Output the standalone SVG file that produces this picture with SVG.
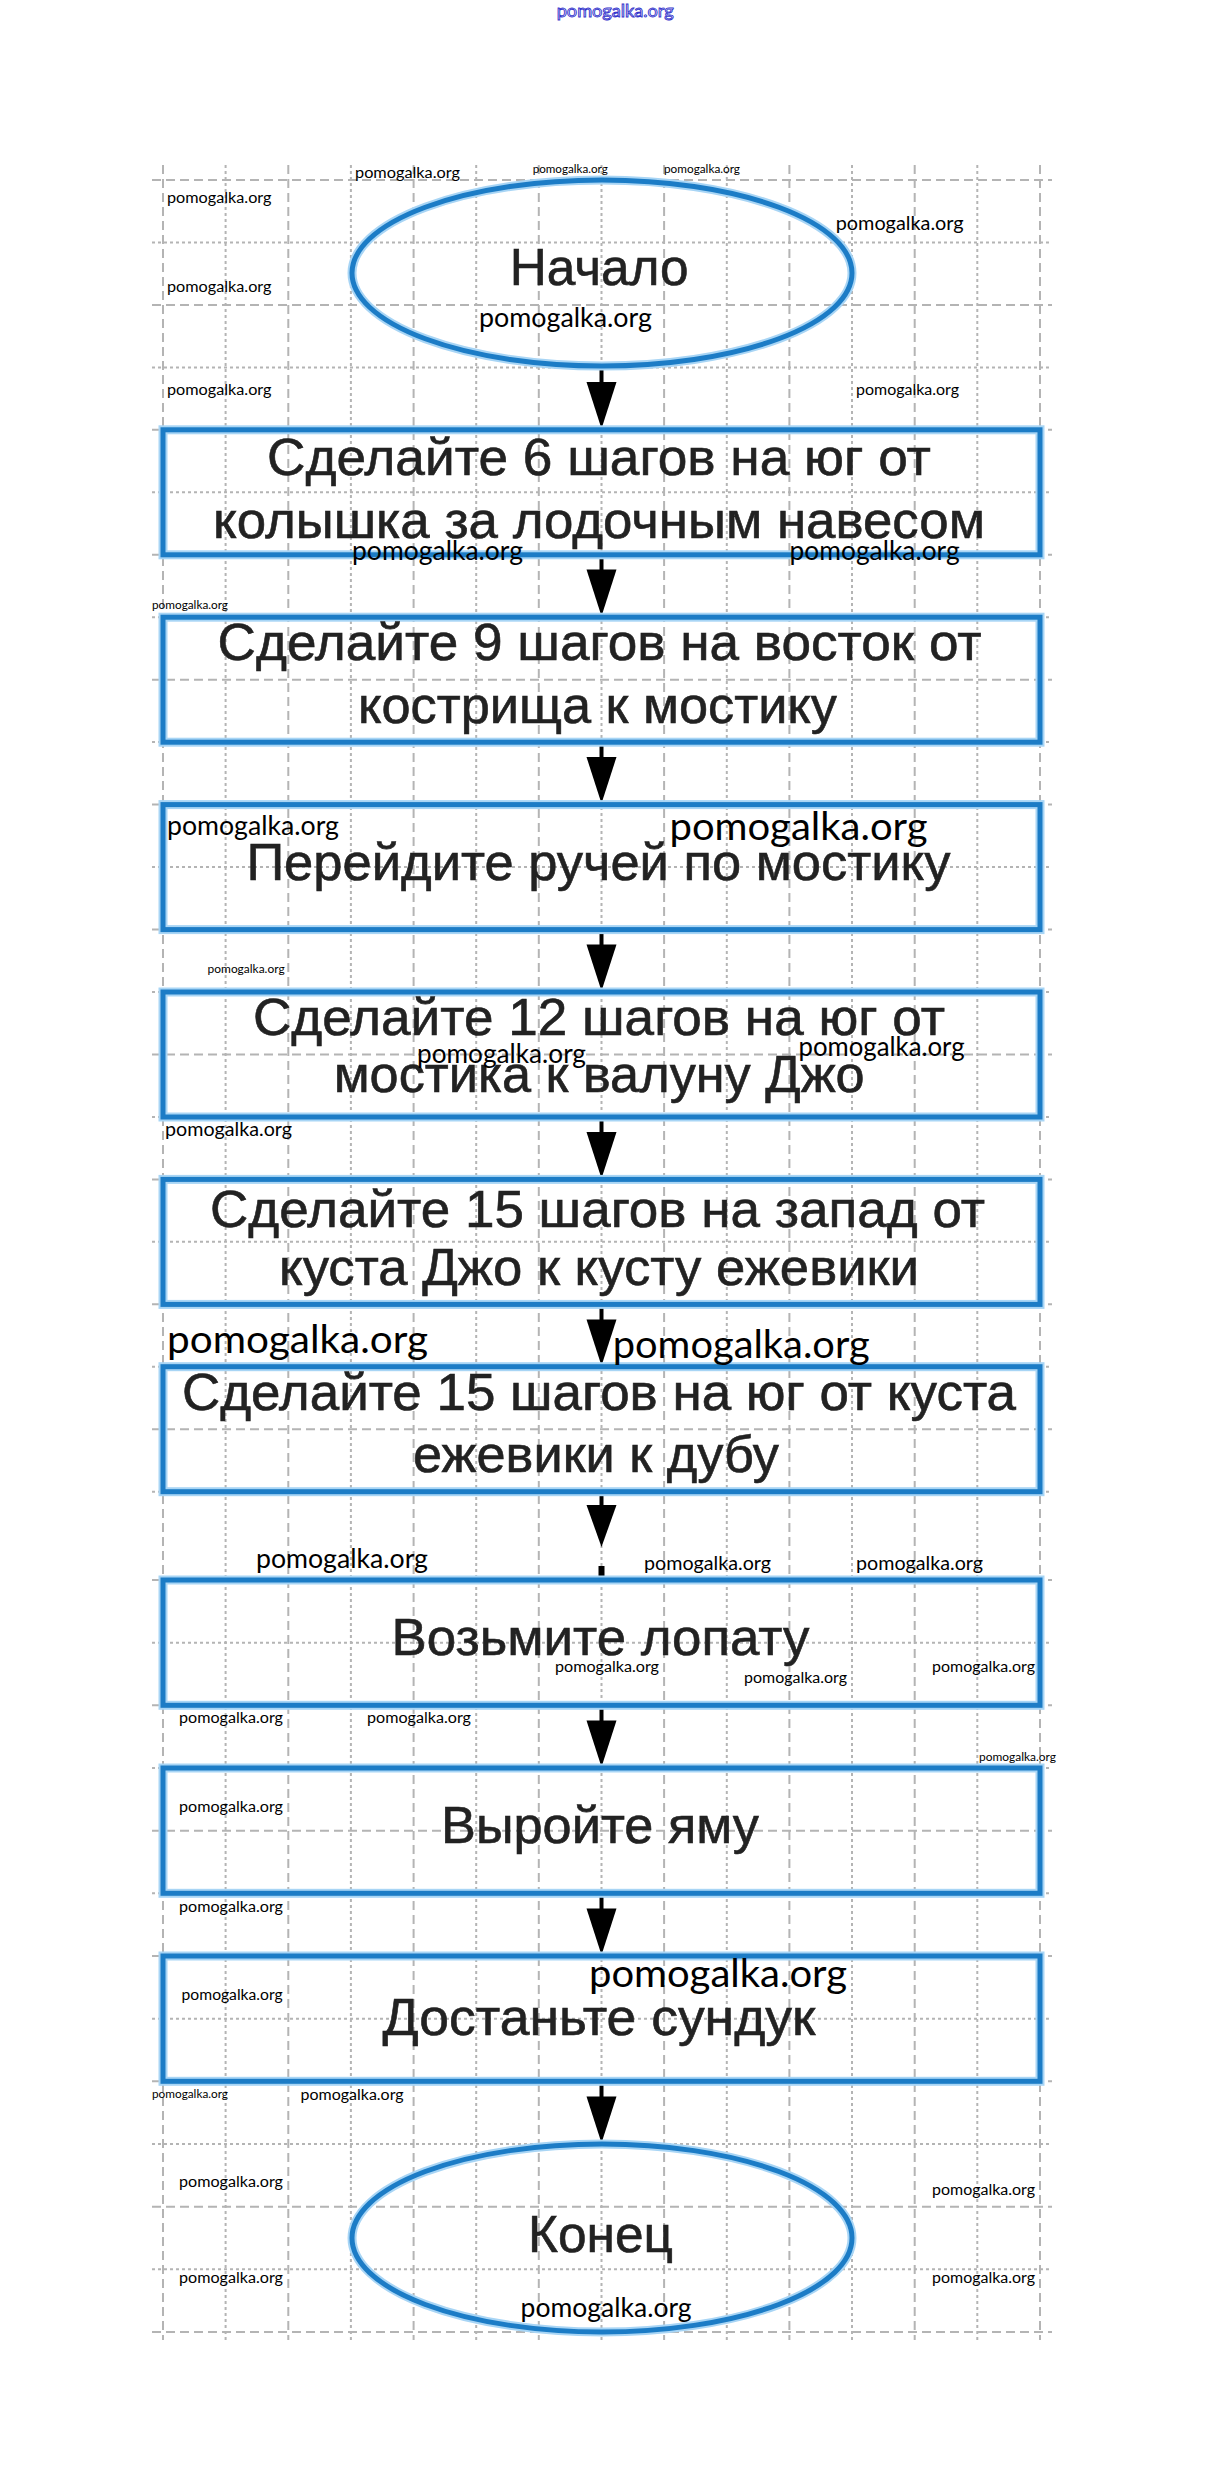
<svg xmlns="http://www.w3.org/2000/svg" width="1228" height="2483" viewBox="0 0 1228 2483">
<style>
.bg{fill:#fff}
.grid{fill:none;stroke:#b4b4b4;stroke-width:2}
.D{stroke-dasharray:9 5}
.d{stroke-dasharray:3 3}
.halo{fill:none;stroke:#a8d5f5;stroke-width:9}
.edge{fill:none;stroke:#1c7cc6;stroke-width:5}
.t{font-family:"Liberation Sans",Arial,sans-serif;font-size:52px;fill:#222;stroke:#222;stroke-width:0.6}
.shaft{stroke:#000;stroke-width:4}
.head{fill:#000}
.w{font-family:Lato,"Open Sans",sans-serif;fill:#000}
.w1{font-size:11.5px}
.w2{font-size:15.5px}
.w3{font-size:19px}
.w4{font-size:26px}
.w5{font-size:39px}
.wb{font-family:Lato,"DejaVu Sans",sans-serif;font-size:17px;fill:#fff;stroke:#3434cc;stroke-width:0.9}
</style>
<rect class="bg" x="0" y="0" width="1228" height="2483"/>
<g id="grid">
<path class="grid D" d="M152 180H1052M152 304.9H1052M152 429.8H1052M152 554.8H1052M152 679.7H1052M152 804.6H1052M152 929.5H1052M152 1054.4H1052M152 1179.4H1052M152 1304.3H1052M152 1429.2H1052M152 1580H1052M152 1705.3H1052M152 1830.7H1052M152 1956H1052M152 2081.3H1052M152 2206.7H1052M152 2332H1052"/>
<path class="grid d" d="M152 242.5H1052M152 367.4H1052M152 492.3H1052M152 617.2H1052M152 742.1H1052M152 867.1H1052M152 992H1052M152 1116.9H1052M152 1241.8H1052M152 1366.7H1052M152 1491.7H1052M152 1642.7H1052M152 1768H1052M152 1893.3H1052M152 2018.7H1052M152 2144H1052M152 2269.3H1052"/>
<path class="grid D" d="M163 165V2340M288.3 165V2340M413.6 165V2340M538.8 165V2340M664.1 165V2340M789.4 165V2340M914.7 165V2340M1040 165V2340"/>
<path class="grid d" d="M225.6 165V2340M350.9 165V2340M476.2 165V2340M601.5 165V2340M726.8 165V2340M852 165V2340M977.3 165V2340"/>
</g>
<g id="connectors">
<g><line class="shaft" x1="601.5" y1="366" x2="601.5" y2="386"/><polygon class="head" points="586.5,382 616.5,382 601.5,428.8"/></g>
<g><line class="shaft" x1="601.5" y1="554.8" x2="601.5" y2="573"/><polygon class="head" points="586.5,569.5 616.5,569.5 601.5,616.2"/></g>
<g><line class="shaft" x1="601.5" y1="742.1" x2="601.5" y2="760"/><polygon class="head" points="586.5,757 616.5,757 601.5,803.6"/></g>
<g><line class="shaft" x1="601.5" y1="929.5" x2="601.5" y2="948"/><polygon class="head" points="586.5,944.5 616.5,944.5 601.5,991"/></g>
<g><line class="shaft" x1="601.5" y1="1116.9" x2="601.5" y2="1135"/><polygon class="head" points="586.5,1132 616.5,1132 601.5,1178.4"/></g>
<g><line class="shaft" x1="601.5" y1="1304.3" x2="601.5" y2="1323"/><polygon class="head" points="586.5,1319.5 616.5,1319.5 601.5,1365.7"/></g>
<g><line class="shaft" x1="601.5" y1="1491.7" x2="601.5" y2="1508"/><polygon class="head" points="586.5,1505 616.5,1505 601.5,1547"/><line class="shaft" x1="601.5" y1="1566" x2="601.5" y2="1580" style="stroke-width:6"/></g>
<g><line class="shaft" x1="601.5" y1="1705.3" x2="601.5" y2="1724"/><polygon class="head" points="586.5,1720.5 616.5,1720.5 601.5,1767"/></g>
<g><line class="shaft" x1="601.5" y1="1893.3" x2="601.5" y2="1912"/><polygon class="head" points="586.5,1908.5 616.5,1908.5 601.5,1955"/></g>
<g><line class="shaft" x1="601.5" y1="2081.3" x2="601.5" y2="2100"/><polygon class="head" points="586.5,2096.5 616.5,2096.5 601.5,2143"/></g>
</g>
<g id="start">
<ellipse class="halo" cx="602" cy="273" rx="250" ry="93"/>
<ellipse class="edge" cx="602" cy="273" rx="250" ry="93"/>
<text class="t" x="509.7" y="285" textLength="179" lengthAdjust="spacingAndGlyphs">Начало</text>
</g>
<g id="step1">
<rect class="halo" x="163" y="429.8" width="877" height="125"/>
<rect class="edge" x="163" y="429.8" width="877" height="125"/>
<text class="t" x="267" y="475" textLength="664" lengthAdjust="spacingAndGlyphs">Сделайте 6 шагов на юг от</text>
<text class="t" x="213" y="538" textLength="772" lengthAdjust="spacingAndGlyphs">колышка за лодочным навесом</text>
</g>
<g id="step2">
<rect class="halo" x="163" y="617.2" width="877" height="125"/>
<rect class="edge" x="163" y="617.2" width="877" height="125"/>
<text class="t" x="217.6" y="660" textLength="764" lengthAdjust="spacingAndGlyphs">Сделайте 9 шагов на восток от</text>
<text class="t" x="358" y="723" textLength="479" lengthAdjust="spacingAndGlyphs">кострища к мостику</text>
</g>
<g id="step3">
<rect class="halo" x="163" y="804.6" width="877" height="125"/>
<rect class="edge" x="163" y="804.6" width="877" height="125"/>
<text class="t" x="246.4" y="880" textLength="704" lengthAdjust="spacingAndGlyphs">Перейдите ручей по мостику</text>
</g>
<g id="step4">
<rect class="halo" x="163" y="992" width="877" height="125"/>
<rect class="edge" x="163" y="992" width="877" height="125"/>
<text class="t" x="253" y="1035" textLength="692" lengthAdjust="spacingAndGlyphs">Сделайте 12 шагов на юг от</text>
<text class="t" x="333.7" y="1092" textLength="531" lengthAdjust="spacingAndGlyphs">мостика к валуну Джо</text>
</g>
<g id="step5">
<rect class="halo" x="163" y="1179.4" width="877" height="125"/>
<rect class="edge" x="163" y="1179.4" width="877" height="125"/>
<text class="t" x="210" y="1227" textLength="775" lengthAdjust="spacingAndGlyphs">Сделайте 15 шагов на запад от</text>
<text class="t" x="279" y="1285" textLength="640" lengthAdjust="spacingAndGlyphs">куста Джо к кусту ежевики</text>
</g>
<g id="step6">
<rect class="halo" x="163" y="1366.7" width="877" height="125"/>
<rect class="edge" x="163" y="1366.7" width="877" height="125"/>
<text class="t" x="182" y="1410" textLength="834" lengthAdjust="spacingAndGlyphs">Сделайте 15 шагов на юг от куста</text>
<text class="t" x="413" y="1472" textLength="366" lengthAdjust="spacingAndGlyphs">ежевики к дубу</text>
</g>
<g id="step7">
<rect class="halo" x="163" y="1580" width="877" height="125.3"/>
<rect class="edge" x="163" y="1580" width="877" height="125.3"/>
<text class="t" x="391.5" y="1655" textLength="418" lengthAdjust="spacingAndGlyphs">Возьмите лопату</text>
</g>
<g id="step8">
<rect class="halo" x="163" y="1768" width="877" height="125.3"/>
<rect class="edge" x="163" y="1768" width="877" height="125.3"/>
<text class="t" x="441" y="1843" textLength="318" lengthAdjust="spacingAndGlyphs">Выройте яму</text>
</g>
<g id="step9">
<rect class="halo" x="163" y="1956" width="877" height="125.3"/>
<rect class="edge" x="163" y="1956" width="877" height="125.3"/>
<text class="t" x="382.5" y="2035" textLength="433" lengthAdjust="spacingAndGlyphs">Достаньте сундук</text>
</g>
<g id="end">
<ellipse class="halo" cx="602" cy="2238" rx="250" ry="94"/>
<ellipse class="edge" cx="602" cy="2238" rx="250" ry="94"/>
<text class="t" x="528" y="2252" textLength="145" lengthAdjust="spacingAndGlyphs">Конец</text>
</g>
<g id="watermarks">
<text class="wb" x="556.7" y="17.3" textLength="117" lengthAdjust="spacingAndGlyphs">pomogalka.org</text>
<text class="w w2" x="355" y="178" textLength="105" lengthAdjust="spacingAndGlyphs">pomogalka.org</text>
<text class="w w1" x="532.7" y="173" textLength="75" lengthAdjust="spacingAndGlyphs">pomogalka.org</text>
<text class="w w1" x="664" y="173" textLength="76" lengthAdjust="spacingAndGlyphs">pomogalka.org</text>
<text class="w w2" x="167" y="203" textLength="104.5" lengthAdjust="spacingAndGlyphs">pomogalka.org</text>
<text class="w w3" x="835.7" y="230" textLength="128" lengthAdjust="spacingAndGlyphs">pomogalka.org</text>
<text class="w w2" x="167" y="291.7" textLength="104.5" lengthAdjust="spacingAndGlyphs">pomogalka.org</text>
<text class="w w4" x="479" y="326.7" textLength="173" lengthAdjust="spacingAndGlyphs">pomogalka.org</text>
<text class="w w2" x="167" y="395" textLength="104.5" lengthAdjust="spacingAndGlyphs">pomogalka.org</text>
<text class="w w2" x="856" y="395" textLength="103" lengthAdjust="spacingAndGlyphs">pomogalka.org</text>
<text class="w w4" x="352" y="560" textLength="171" lengthAdjust="spacingAndGlyphs">pomogalka.org</text>
<text class="w w4" x="789.6" y="560" textLength="170" lengthAdjust="spacingAndGlyphs">pomogalka.org</text>
<text class="w w1" x="152" y="609" textLength="76" lengthAdjust="spacingAndGlyphs">pomogalka.org</text>
<text class="w w4" x="167" y="835" textLength="172" lengthAdjust="spacingAndGlyphs">pomogalka.org</text>
<text class="w w5" x="669.5" y="840" textLength="258" lengthAdjust="spacingAndGlyphs">pomogalka.org</text>
<text class="w w1" x="207.6" y="973" textLength="77" lengthAdjust="spacingAndGlyphs">pomogalka.org</text>
<text class="w w4" x="417" y="1063" textLength="169" lengthAdjust="spacingAndGlyphs">pomogalka.org</text>
<text class="w w4" x="798.6" y="1056" textLength="166" lengthAdjust="spacingAndGlyphs">pomogalka.org</text>
<text class="w w3" x="165" y="1136" textLength="127" lengthAdjust="spacingAndGlyphs">pomogalka.org</text>
<text class="w w5" x="167" y="1353" textLength="261" lengthAdjust="spacingAndGlyphs">pomogalka.org</text>
<text class="w w5" x="612.7" y="1358" textLength="257" lengthAdjust="spacingAndGlyphs">pomogalka.org</text>
<text class="w w4" x="256" y="1568" textLength="172" lengthAdjust="spacingAndGlyphs">pomogalka.org</text>
<text class="w w3" x="644" y="1570" textLength="127" lengthAdjust="spacingAndGlyphs">pomogalka.org</text>
<text class="w w3" x="856" y="1570" textLength="127" lengthAdjust="spacingAndGlyphs">pomogalka.org</text>
<text class="w w2" x="555" y="1671.7" textLength="104" lengthAdjust="spacingAndGlyphs">pomogalka.org</text>
<text class="w w2" x="744" y="1683" textLength="103" lengthAdjust="spacingAndGlyphs">pomogalka.org</text>
<text class="w w2" x="932" y="1671.7" textLength="103" lengthAdjust="spacingAndGlyphs">pomogalka.org</text>
<text class="w w2" x="179" y="1723" textLength="104" lengthAdjust="spacingAndGlyphs">pomogalka.org</text>
<text class="w w2" x="367" y="1723" textLength="104" lengthAdjust="spacingAndGlyphs">pomogalka.org</text>
<text class="w w1" x="979" y="1760.7" textLength="77" lengthAdjust="spacingAndGlyphs">pomogalka.org</text>
<text class="w w2" x="179" y="1811.7" textLength="104" lengthAdjust="spacingAndGlyphs">pomogalka.org</text>
<text class="w w2" x="179" y="1911.7" textLength="104" lengthAdjust="spacingAndGlyphs">pomogalka.org</text>
<text class="w w2" x="181.6" y="2000" textLength="101" lengthAdjust="spacingAndGlyphs">pomogalka.org</text>
<text class="w w5" x="589" y="1986.7" textLength="258" lengthAdjust="spacingAndGlyphs">pomogalka.org</text>
<text class="w w1" x="152" y="2098" textLength="76" lengthAdjust="spacingAndGlyphs">pomogalka.org</text>
<text class="w w2" x="300.6" y="2100" textLength="103" lengthAdjust="spacingAndGlyphs">pomogalka.org</text>
<text class="w w2" x="179" y="2187" textLength="104" lengthAdjust="spacingAndGlyphs">pomogalka.org</text>
<text class="w w2" x="932" y="2195" textLength="103" lengthAdjust="spacingAndGlyphs">pomogalka.org</text>
<text class="w w2" x="179" y="2283" textLength="104" lengthAdjust="spacingAndGlyphs">pomogalka.org</text>
<text class="w w2" x="932" y="2283" textLength="103" lengthAdjust="spacingAndGlyphs">pomogalka.org</text>
<text class="w w4" x="520.6" y="2316.7" textLength="171" lengthAdjust="spacingAndGlyphs">pomogalka.org</text>
</g>
</svg>
